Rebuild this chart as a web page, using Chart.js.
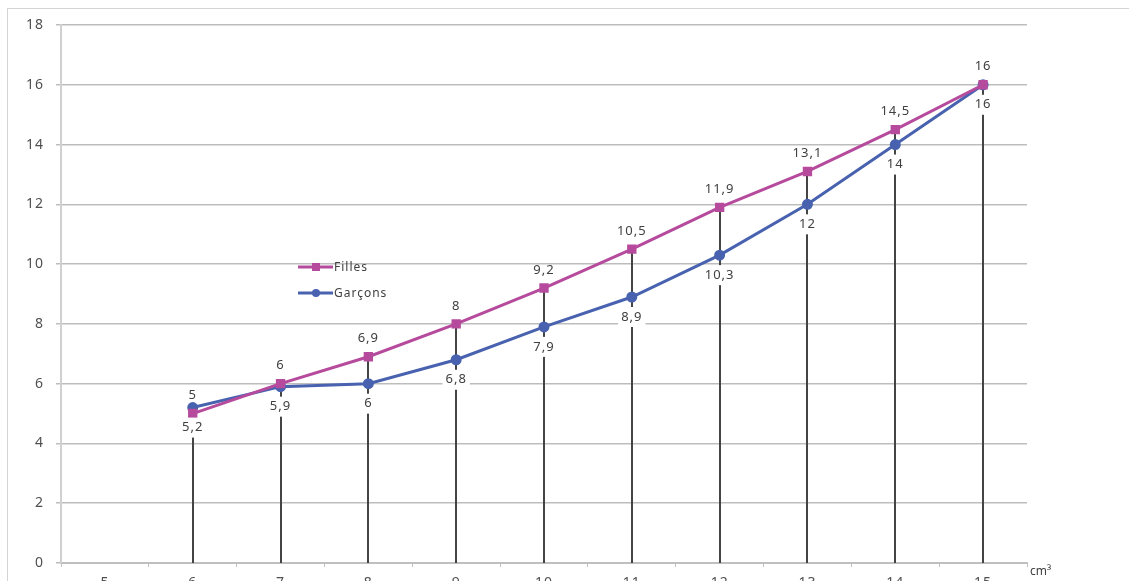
<!DOCTYPE html>
<html>
<head>
<meta charset="utf-8">
<script src="https://cdn.jsdelivr.net/npm/chart.js@4/dist/chart.umd.min.js"></script>
<style>
  html, body { margin: 0; padding: 0; background: #fff; overflow: hidden; }
  #frame {
    position: absolute; left: 7px; top: 8px; width: 1200px; height: 700px;
    border-left: 1px solid #d4d4d4; border-top: 1px solid #d4d4d4;
  }
  #wrap { position: absolute; left: 0; top: 0; width: 1129px; height: 600px; }
</style>
</head>
<body>
<div id="frame"></div>
<div id="wrap"><canvas id="chart"></canvas></div>
<script>
// Data
const volumes = ['5', '6', '7', '8', '9', '10', '11', '12', '13', '14', '15'];
const filles  = [null, 5, 6, 6.9, 8, 9.2, 10.5, 11.9, 13.1, 14.5, 16];
const garcons = [null, 5.2, 5.9, 6, 6.8, 7.9, 8.9, 10.3, 12, 14, 16];
const yTicks  = [0, 2, 4, 6, 8, 10, 12, 14, 16, 18];

const fillesColor = '#b64a9d';
const garconsColor = '#4862b0';
const textColor = '#404040';

function fmt(v) {
    return String(v).replace('.', ',');
}

// wider spacing like the original Calibri text
const spacing = {
    id: 'spacing',
    beforeDraw(chart) {
        chart.ctx.letterSpacing = '1px';
    }
};

// Drop lines from the highest point of each category down to the axis
const dropLines = {
    id: 'dropLines',
    beforeDatasetsDraw(chart) {
        const ctx = chart.ctx;
        const x = chart.scales.x, y = chart.scales.y;
        ctx.save();
        ctx.strokeStyle = '#444444';
        ctx.lineWidth = 2;
        volumes.forEach((v, i) => {
            if (filles[i] == null) return;
            const top = Math.max(filles[i], garcons[i]);
            const px = Math.round(x.getPixelForValue(i));
            ctx.beginPath();
            ctx.moveTo(px, y.getPixelForValue(top));
            ctx.lineTo(px, chart.chartArea.bottom);
            ctx.stroke();
        });
        ctx.restore();
    }
};

// Value labels, legend and unit label
const extras = {
    id: 'extras',
    afterDatasetsDraw(chart) {
        const ctx = chart.ctx;
        const x = chart.scales.x, y = chart.scales.y;
        ctx.save();
        ctx.letterSpacing = '1px';
        ctx.font = '13px "Noto Sans"';
        ctx.textAlign = 'center';
        ctx.textBaseline = 'middle';
        volumes.forEach((v, i) => {
            if (filles[i] == null) return;
            const px = x.getPixelForValue(i);
            // Filles above
            ctx.fillStyle = textColor;
            ctx.fillText(fmt(filles[i]), px, y.getPixelForValue(filles[i]) - 18);
            // Garçons below, on white box
            const gy = y.getPixelForValue(garcons[i]) + 20;
            const w = ctx.measureText(fmt(garcons[i])).width + 6;
            ctx.fillStyle = '#fff';
            ctx.fillRect(px - w / 2, gy - 10, w, 20);
            ctx.fillStyle = textColor;
            ctx.fillText(fmt(garcons[i]), px, gy);
        });

        // legend
        const items = [
            { label: 'Filles', color: fillesColor, style: 'rect', y: 267 },
            { label: 'Garçons', color: garconsColor, style: 'circle', y: 293 }
        ];
        ctx.textAlign = 'left';
        ctx.font = '12px "Noto Sans"';
        items.forEach(it => {
            ctx.strokeStyle = it.color;
            ctx.lineWidth = 3;
            ctx.beginPath();
            ctx.moveTo(298, it.y);
            ctx.lineTo(333, it.y);
            ctx.stroke();
            ctx.fillStyle = it.color;
            if (it.style === 'rect') {
                ctx.fillRect(312, it.y - 4, 8, 8);
            } else {
                ctx.beginPath();
                ctx.arc(316, it.y, 4, 0, Math.PI * 2);
                ctx.fill();
            }
            ctx.fillStyle = textColor;
            ctx.fillText(it.label, 334, it.y + 1);
        });

        // unit
        ctx.font = '12px "Noto Sans"';
        ctx.letterSpacing = '0px';
        ctx.fillStyle = textColor;
        ctx.fillText('cm³', chart.chartArea.right + 3, chart.chartArea.bottom + 9);
        ctx.restore();
    }
};

const ctx = document.getElementById('chart').getContext('2d');
new Chart(ctx, {
    type: 'line',
    data: {
        labels: volumes,
        datasets: [
            {
                label: 'Filles',
                data: filles,
                borderColor: fillesColor,
                backgroundColor: fillesColor,
                borderWidth: 3,
                pointStyle: 'rect',
                pointRadius: 4.5,
                tension: 0
            },
            {
                label: 'Garçons',
                data: garcons,
                borderColor: garconsColor,
                backgroundColor: garconsColor,
                borderWidth: 3,
                pointStyle: 'circle',
                pointRadius: 4,
                tension: 0
            }
        ]
    },
    options: {
        responsive: true,
        maintainAspectRatio: false,
        animation: false,
        layout: {
            padding: { left: 7, top: 25, right: 102, bottom: 5 }
        },
        plugins: {
            legend: { display: false },
            tooltip: { enabled: false }
        },
        scales: {
            x: {
                offset: true,
                grid: {
                    drawOnChartArea: false,
                    offset: true,
                    tickLength: 4,
                    color: '#bfbfbf'
                },
                border: { color: '#bfbfbf', width: 2 },
                ticks: {
                    color: '#505050',
                    font: { size: 14, family: 'Noto Sans' },
                    padding: 8,
                    maxRotation: 0
                },
                afterFit(scale) { scale.height = 32; }
            },
            y: {
                min: 0,
                max: 18,
                afterBuildTicks(scale) {
                    scale.ticks = yTicks.map(v => ({ value: v }));
                },
                grid: {
                    color: '#bdbdbd',
                    lineWidth: 1.5,
                    tickLength: 5
                },
                border: { color: '#d0d0d0', width: 2 },
                ticks: {
                    color: '#505050',
                    font: { size: 14, family: 'Noto Sans' },
                    padding: 12
                },
                afterFit(scale) { scale.width = 54; }
            }
        }
    },
    plugins: [spacing, dropLines, extras]
});
</script>
</body>
</html>
